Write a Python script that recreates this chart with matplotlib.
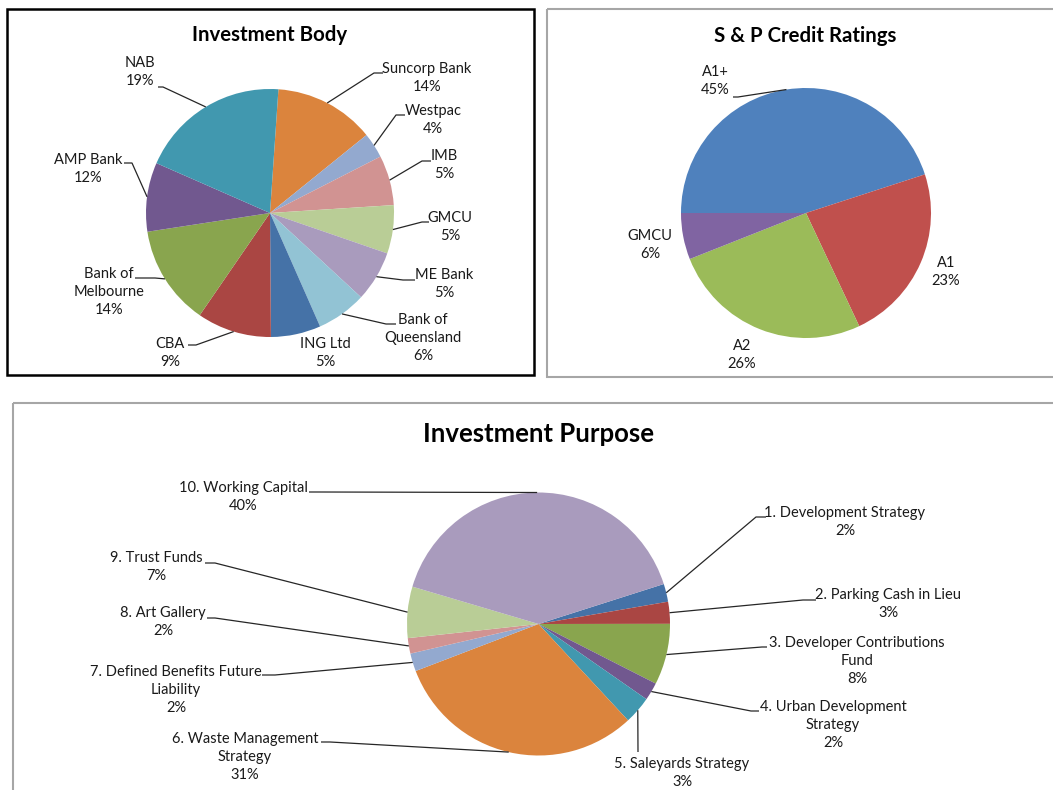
import matplotlib
matplotlib.use("Agg")
import matplotlib.pyplot as plt
from matplotlib.patches import Rectangle
import numpy as np

W, H = 1053, 790

# --- Daten --- #
body_names = ["Suncorp Bank", "Westpac", "IMB", "GMCU", "ME Bank", "Bank of\nQueensland",
              "ING Ltd", "CBA", "Bank of\nMelbourne", "AMP Bank", "NAB"]
body_share = [13.1, 3.3, 6.5, 6.3, 6.6, 6.5, 6.5, 9.7, 13.0, 9.0, 19.5]   # Flaechen wie im Bild
body_pct = [14, 4, 5, 5, 5, 6, 5, 9, 14, 12, 19]                          # Beschriftung

rating_names = ["A1+", "A1", "A2", "GMCU"]
rating_pct = [45, 23, 26, 6]

purpose_names = ["1. Development Strategy", "2. Parking Cash in Lieu",
                 "3. Developer Contributions\nFund", "4. Urban Development\nStrategy",
                 "5. Saleyards Strategy", "6. Waste Management\nStrategy",
                 "7. Defined Benefits Future\nLiability", "8. Art Gallery",
                 "9. Trust Funds", "10. Working Capital"]
purpose_share = [2.2, 2.7, 7.5, 2.2, 3.4, 31.1, 2.2, 1.9, 6.3, 40.5]
purpose_pct = [2, 3, 8, 2, 3, 31, 2, 2, 7, 40]

# --- Farben --- #
body_colors = ["#DB843D", "#93A9CF", "#D19392", "#B9CD96", "#A99BBD", "#92C3D4",
               "#4572A7", "#AA4643", "#89A54E", "#71588F", "#4198AF"]
rating_colors = ["#4F81BD", "#C0504D", "#9BBB59", "#8064A2"]
purpose_colors = ["#4572A7", "#AA4643", "#89A54E", "#71588F", "#4198AF", "#DB843D",
                  "#93A9CF", "#D19392", "#B9CD96", "#A99BBD"]

# --- Layout (Pixel, y nach unten) --- #
body_text_pos = [(427, 78), (433, 120), (444, 165), (450, 227), (444, 284), (423, 338),
                 (325, 353), (170, 353), (109, 292), (88, 169), (140, 72)]
body_leader = [(383, 73, -9), (405, 115, -9), (431, 161, -9), (429, 222, -7), (415, 280, -12),
               (396, 324, -10), None, (188, 345, 8), (135, 278, 20), (124, 163, 8), (158, 87, 5)]
rating_text_pos = [(715, 81), (946, 272), (742, 355), (650, 245)]
rating_leader = [(733, 97, 5), None, None, None]
purpose_text_pos = [(845, 522), (888, 604), (857, 661), (833, 725), (682, 773),
                    (245, 757), (176, 690), (163, 622), (156, 567), (243, 497)]
purpose_leader = [(766, 517, -10), (816, 600, -13), (767, 647, -5), (759, 711, -8), (638, 752, 0),
                  (321, 742, 9), (262, 675, 13), (207, 618, 8), (205, 563, 10), (309, 492, 10)]

LABEL_FONT = "Lato"
LABEL_SIZE = 10.5
LINE_COLOR = "#262626"


def draw_pie(ax, shares, colors, center, radius, start, names, pcts, text_pos, leaders):
    # Kreis zeichnen (y-Achse invertiert, daher counterclock=True -> im Bild im Uhrzeigersinn)
    wedges, _ = ax.pie(shares, colors=colors, startangle=start, counterclock=True,
                       center=center, radius=radius, wedgeprops=dict(linewidth=0))
    for w, name, pct, pos, lead in zip(wedges, names, pcts, text_pos, leaders):
        ax.text(pos[0], pos[1], f"{name}\n{pct}%", ha="center", va="center",
                multialignment="center", family=LABEL_FONT, fontsize=LABEL_SIZE,
                color="#1a1a1a", linespacing=1.35)
        if lead is None:
            continue
        mid = np.deg2rad((w.theta1 + w.theta2) / 2)
        ex = center[0] + radius * np.cos(mid)
        ey = center[1] + radius * np.sin(mid)
        lx, ly, stub = lead
        ax.plot([lx, lx + stub, ex], [ly, ly, ey], color=LINE_COLOR, lw=0.9,
                solid_capstyle="butt")


def main():
    fig = plt.figure(figsize=(W / 100, H / 100), dpi=100)
    ax = fig.add_axes([0, 0, 1, 1])

    # Rahmen
    ax.add_patch(Rectangle((7, 9), 527, 366, fill=False, ec="black", lw=1.8))
    ax.add_patch(Rectangle((547, 9), 520, 368, fill=False, ec="#A6A6A6", lw=1.5))
    ax.add_patch(Rectangle((13, 403), 1060, 400, fill=False, ec="#A6A6A6", lw=1.5))

    draw_pie(ax, body_share, body_colors, (270, 213), 124, -86.1,
             body_names, body_pct, body_text_pos, body_leader)
    draw_pie(ax, rating_pct, rating_colors, (806, 213), 125, 180,
             rating_names, rating_pct, rating_text_pos, rating_leader)
    draw_pie(ax, purpose_share, purpose_colors, (538.5, 624), 131.5, -17.7,
             purpose_names, purpose_pct, purpose_text_pos, purpose_leader)

    # Titel
    ax.text(270, 41, "Investment Body", ha="center", va="baseline", family=LABEL_FONT,
            fontweight="bold", fontsize=14.7, color="black")
    ax.text(805, 41.5, "S & P Credit Ratings", ha="center", va="baseline", family=LABEL_FONT,
            fontweight="bold", fontsize=14.7, color="black")
    ax.text(538.5, 442, "Investment Purpose", ha="center", va="baseline", family=LABEL_FONT,
            fontweight="bold", fontsize=18.5, color="black")

    ax.set_xlim(0, W)
    ax.set_ylim(H, 0)
    ax.set_aspect("equal")
    ax.axis("off")

    fig.savefig("out.png", dpi=100, facecolor="white")


if __name__ == "__main__":
    main()
